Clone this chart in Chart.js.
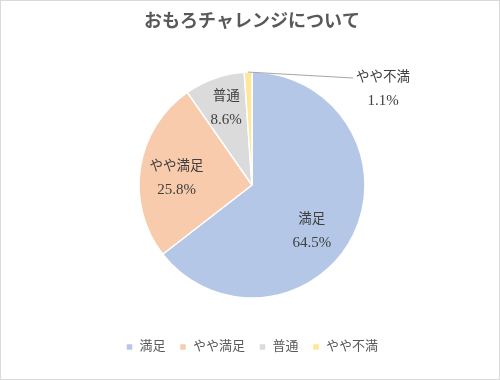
<!DOCTYPE html>
<html><head><meta charset="utf-8">
<script src="https://cdn.jsdelivr.net/npm/chart.js@4/dist/chart.umd.min.js"></script>
<style>html,body{margin:0;padding:0;background:#fff}canvas{display:block}</style>
</head><body>
<canvas id="c" width="500" height="380"></canvas>
<script>
const titleText = 'おもろチャレンジについて';
const categories = ['満足', 'やや満足', '普通', 'やや不満'];
const values = [64.5, 25.8, 8.6, 1.1];
const valueLabels = ['64.5%', '25.8%', '8.6%', '1.1%'];
const colors = ['#B4C7E7', '#F8CBAD', '#DBDBDB', '#FFE699'];

const FONT = '"Liberation Serif", "Noto Sans CJK JP", serif';

// label placement (style): inside labels by angle offset (deg) and radius fraction; outside label with leader line
const placement = [
  {angleOff: 11.7, frac: 0.67},
  {angleOff: -3.6, frac: 0.67},
  {angleOff: 0.9, frac: 0.72},
  {outside: true, lx: 1.16, ly: -0.85, ex: 0.894, ey: -0.947}
];

const frame = {
  id: 'frame',
  beforeDraw(chart) {
    const ctx = chart.ctx;
    ctx.save();
    ctx.fillStyle = '#fff';
    ctx.fillRect(0, 0, chart.width, chart.height);
    ctx.restore();
  },
  afterDraw(chart) {
    const ctx = chart.ctx;
    ctx.save();
    ctx.strokeStyle = '#D9D9D9';
    ctx.lineWidth = 1;
    ctx.strokeRect(0.5, 0.5, chart.width - 1, chart.height - 1);
    ctx.restore();
  }
};

const pieLabels = {
  id: 'pieLabels',
  afterDatasetsDraw(chart) {
    const ctx = chart.ctx;
    const meta = chart.getDatasetMeta(0);
    ctx.save();
    ctx.fillStyle = '#404040';
    ctx.textAlign = 'center';
    ctx.textBaseline = 'middle';
    meta.data.forEach((arc, i) => {
      const p = arc.getProps(['x', 'y', 'startAngle', 'endAngle', 'outerRadius'], true);
      const mid = (p.startAngle + p.endAngle) / 2;
      const pl = placement[i];
      let cx, cy;
      if (pl.outside) {
        const sx = p.x + Math.cos(mid) * p.outerRadius;
        const sy = p.y + Math.sin(mid) * p.outerRadius;
        const exx = p.x + pl.ex * p.outerRadius;
        const eyy = p.y + pl.ey * p.outerRadius;
        ctx.save();
        ctx.strokeStyle = '#A6A6A6';
        ctx.lineWidth = 1;
        ctx.beginPath();
        ctx.moveTo(sx, sy);
        ctx.lineTo(exx, eyy);
        ctx.stroke();
        ctx.restore();
        cx = p.x + pl.lx * p.outerRadius;
        cy = p.y + pl.ly * p.outerRadius;
      } else {
        const a = mid + pl.angleOff * Math.PI / 180;
        cx = p.x + Math.cos(a) * p.outerRadius * pl.frac;
        cy = p.y + Math.sin(a) * p.outerRadius * pl.frac;
      }
      ctx.font = '13.5px ' + FONT;
      ctx.fillText(categories[i], cx, cy - 11.5);
      ctx.font = '15px ' + FONT;
      ctx.fillText(valueLabels[i], cx, cy + 12);
    });
    ctx.restore();
  }
};

new Chart(document.getElementById('c'), {
  type: 'pie',
  data: {
    labels: categories,
    datasets: [{
      data: values,
      backgroundColor: colors,
      borderColor: '#ffffff',
      borderWidth: 1.5,
      radius: 113
    }]
  },
  options: {
    responsive: false,
    animation: false,
    layout: {padding: {left: 4, right: 0, top: 0, bottom: 16.5}},
    plugins: {
      tooltip: {enabled: false},
      title: {
        display: true,
        text: titleText,
        color: '#595959',
        font: {family: FONT, size: 18, weight: 'bold'},
        padding: {top: 12, bottom: 9.9}
      },
      legend: {
        position: 'bottom',
        labels: {
          boxWidth: 7,
          boxHeight: 7,
          padding: 14,
          color: '#595959',
          font: {family: FONT, size: 13}
        }
      }
    }
  },
  plugins: [frame, pieLabels]
});
</script>
</body></html>
